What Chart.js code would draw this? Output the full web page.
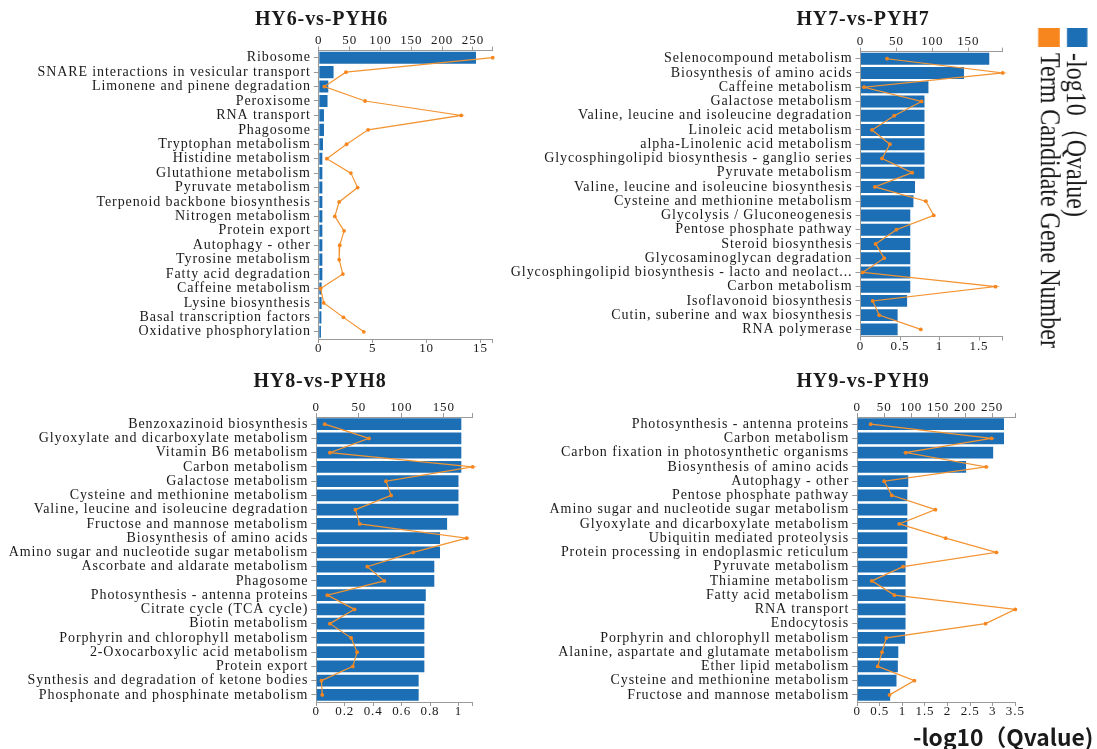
<!DOCTYPE html>
<html>
<head>
<meta charset="utf-8">
<script src="https://cdn.jsdelivr.net/npm/chart.js@4.4.1/dist/chart.umd.min.js"></script>
<style>
html, body { margin: 0; padding: 0; background: #fff; overflow: hidden; width: 1097px; height: 749px; }
canvas { position: absolute; }
.title { position: absolute; transform: translate(-50%, -50%); font-family: "Liberation Serif", serif; font-weight: bold;
         font-size: 20px; line-height: 24px; letter-spacing: 0.9px; color: #1a1a1a; white-space: nowrap; }
#key { position: absolute; left: 1091px; top: 28px; transform-origin: 0 0; transform: rotate(90deg) scaleY(1.2);
       font-family: "Liberation Serif", serif; font-size: 24px; color: #1a1a1a; white-space: nowrap; }
#key .row { display: flex; align-items: center; height: 23.3px; }
#key .sw { width: 19px; height: 17.5px; margin-right: 6px; flex: none; }
#xname { position: absolute; left: 913px; top: 725px; font-family: "Noto Sans CJK SC", sans-serif; font-weight: bold;
         font-size: 22.8px; line-height: 23px; color: #1a1a1a; white-space: nowrap; }
</style>
</head>
<body>
<canvas id="c6" width="643" height="360" style="left:0px;top:0px"></canvas>
<canvas id="c7" width="597" height="360" style="left:500px;top:0px"></canvas>
<canvas id="c8" width="643" height="389" style="left:0px;top:360px"></canvas>
<canvas id="c9" width="597" height="389" style="left:500px;top:360px"></canvas>
<div class="title" style="left:321.5px;top:17.5px">HY6-vs-PYH6</div>
<div class="title" style="left:863px;top:17.5px">HY7-vs-PYH7</div>
<div class="title" style="left:320px;top:380px">HY8-vs-PYH8</div>
<div class="title" style="left:863px;top:380px">HY9-vs-PYH9</div>
<div id="key">
  <div class="row"><span class="sw" style="background:#1d6fb5"></span><span>-log10（Qvalue)</span></div>
  <div class="row"><span class="sw" style="background:#f8861e"></span><span>Term Candidate Gene Number</span></div>
</div>
<div id="xname">-log10（Qvalue)</div>
<script>
// ---- HY6-vs-PYH6 ----
const hy6Terms = ["Ribosome", "SNARE interactions in vesicular transport", "Limonene and pinene degradation", "Peroxisome",
  "RNA transport", "Phagosome", "Tryptophan metabolism", "Histidine metabolism", "Glutathione metabolism",
  "Pyruvate metabolism", "Terpenoid backbone biosynthesis", "Nitrogen metabolism", "Protein export",
  "Autophagy - other", "Tyrosine metabolism", "Fatty acid degradation", "Caffeine metabolism",
  "Lysine biosynthesis", "Basal transcription factors", "Oxidative phosphorylation"];
const hy6Qvalue = [14.58, 1.37, 0.88, 0.81, 0.48, 0.48, 0.39, 0.33, 0.33, 0.33, 0.33, 0.33, 0.33, 0.33, 0.33, 0.33, 0.26, 0.26, 0.24, 0.2];
const hy6Genes = [282, 44, 9, 75, 231, 80, 45, 13, 52, 63, 33, 26, 41, 34, 33, 39, 3, 8, 40, 73];
const hy6QTicks = [0, 5, 10, 15];
const hy6QMax = 16.13;
const hy6GeneTicks = [0, 50, 100, 150, 200, 250];

// ---- HY7-vs-PYH7 ----
const hy7Terms = ["Selenocompound metabolism", "Biosynthesis of amino acids", "Caffeine metabolism", "Galactose metabolism",
  "Valine, leucine and isoleucine degradation", "Linoleic acid metabolism", "alpha-Linolenic acid metabolism",
  "Glycosphingolipid biosynthesis - ganglio series", "Pyruvate metabolism", "Valine, leucine and isoleucine biosynthesis",
  "Cysteine and methionine metabolism", "Glycolysis / Gluconeogenesis", "Pentose phosphate pathway",
  "Steroid biosynthesis", "Glycosaminoglycan degradation", "Glycosphingolipid biosynthesis - lacto and neolact...",
  "Carbon metabolism", "Isoflavonoid biosynthesis", "Cutin, suberine and wax biosynthesis", "RNA polymerase"];
const hy7Qvalue = [1.63, 1.31, 0.86, 0.81, 0.81, 0.81, 0.81, 0.81, 0.81, 0.69, 0.67, 0.63, 0.63, 0.63, 0.63, 0.63, 0.63, 0.59, 0.47, 0.47];
const hy7Genes = [37, 198, 5, 85, 47, 16, 41, 30, 72, 20, 91, 102, 50, 21, 33, 3, 188, 17, 26, 84];
const hy7QTicks = [0, 0.5, 1, 1.5];
const hy7QMax = 1.8;
const hy7GeneTicks = [0, 50, 100, 150];

// ---- HY8-vs-PYH8 ----
const hy8Terms = ["Benzoxazinoid biosynthesis", "Glyoxylate and dicarboxylate metabolism", "Vitamin B6 metabolism",
  "Carbon metabolism", "Galactose metabolism", "Cysteine and methionine metabolism",
  "Valine, leucine and isoleucine degradation", "Fructose and mannose metabolism", "Biosynthesis of amino acids",
  "Amino sugar and nucleotide sugar metabolism", "Ascorbate and aldarate metabolism", "Phagosome",
  "Photosynthesis - antenna proteins", "Citrate cycle (TCA cycle)", "Biotin metabolism",
  "Porphyrin and chlorophyll metabolism", "2-Oxocarboxylic acid metabolism", "Protein export",
  "Synthesis and degradation of ketone bodies", "Phosphonate and phosphinate metabolism"];
const hy8Qvalue = [1.02, 1.02, 1.02, 1.02, 1.0, 1.0, 1.0, 0.92, 0.87, 0.87, 0.83, 0.83, 0.77, 0.76, 0.76, 0.76, 0.76, 0.76, 0.72, 0.72];
const hy8Genes = [10, 62, 16, 184, 82, 88, 46, 51, 177, 114, 60, 80, 13, 45, 16, 41, 48, 43, 6, 7];
const hy8QTicks = [0, 0.2, 0.4, 0.6, 0.8, 1];
const hy8QMax = 1.1;
const hy8GeneTicks = [0, 50, 100, 150];

// ---- HY9-vs-PYH9 ----
const hy9Terms = ["Photosynthesis - antenna proteins", "Carbon metabolism", "Carbon fixation in photosynthetic organisms",
  "Biosynthesis of amino acids", "Autophagy - other", "Pentose phosphate pathway",
  "Amino sugar and nucleotide sugar metabolism", "Glyoxylate and dicarboxylate metabolism",
  "Ubiquitin mediated proteolysis", "Protein processing in endoplasmic reticulum", "Pyruvate metabolism",
  "Thiamine metabolism", "Fatty acid metabolism", "RNA transport", "Endocytosis",
  "Porphyrin and chlorophyll metabolism", "Alanine, aspartate and glutamate metabolism", "Ether lipid metabolism",
  "Cysteine and methionine metabolism", "Fructose and mannose metabolism"];
const hy9Qvalue = [3.25, 3.25, 3.01, 2.41, 1.13, 1.11, 1.11, 1.11, 1.11, 1.11, 1.07, 1.07, 1.07, 1.07, 1.07, 1.06, 0.91, 0.9, 0.87, 0.73];
const hy9Genes = [25, 249, 90, 239, 50, 64, 145, 78, 164, 258, 85, 27, 69, 293, 238, 54, 46, 38, 106, 60];
const hy9QTicks = [0, 0.5, 1, 1.5, 2, 2.5, 3, 3.5];
const hy9QMax = 3.5;
const hy9GeneTicks = [0, 50, 100, 150, 200, 250];

// ---- styling ----
const BLUE = '#1d6fb5';
const ORANGE = '#f8861e';
const LINE = '#f39432';
const AXIS = '#9a9a9a';
const INK = '#1a1a1a';
const SERIF = '"Liberation Serif", "Times New Roman", serif';

Chart.defaults.font.family = SERIF;

// wide, airy lettering for every text drawn on the canvases
const airyText = {
  id: 'airyText',
  beforeDraw(chart) { chart.ctx.letterSpacing = '0.9px'; }
};

// frame: canvas placement (L,T,W,H) and plot box (cl,cr,ct,cb), in page pixels
function panel(id, terms, qvalue, genes, qTicks, qMax, geneTicks, f) {
  const topH = 22;
  const botH = 20;
  const yw = f.cl - f.L;
  const pr = f.W - (f.cr - f.L);
  const pt = f.ct - f.T - topH;
  const pb = f.H - (f.cb - f.T) - botH;
  const geneMax = Math.max(...genes);

  const valueAxis = (ticksList, max, position, h) => ({
    type: 'linear', position, min: 0, max,
    grid: { drawOnChartArea: false, drawTicks: true, tickLength: 4, color: AXIS },
    border: { display: true, color: AXIS, width: 1 },
    ticks: {
      autoSkip: false, maxRotation: 0, color: INK, padding: -2,
      font: { family: SERIF, size: 13 },
      callback: (v) => ticksList.includes(v) ? String(v) : ''
    },
    afterBuildTicks(s) {
      const vals = ticksList.slice();
      if (vals[vals.length - 1] < max) vals.push(max);
      s.ticks = vals.map(v => ({ value: v }));
    },
    afterFit(s) { s.height = h; }
  });

  return new Chart(document.getElementById(id), {
    type: 'bar',
    data: {
      labels: terms,
      datasets: [
        {
          type: 'line', label: 'Term Candidate Gene Number', data: genes,
          xAxisID: 'x2', yAxisID: 'y', indexAxis: 'y',
          borderColor: LINE, backgroundColor: LINE, borderWidth: 1.2,
          pointRadius: 1.9, pointBorderWidth: 0, pointBackgroundColor: ORANGE,
          pointHoverRadius: 0, clip: false, order: 0, tension: 0
        },
        {
          type: 'bar', label: '-log10（Qvalue)', data: qvalue,
          xAxisID: 'x', yAxisID: 'y',
          backgroundColor: BLUE, borderWidth: 0,
          barPercentage: 0.84, categoryPercentage: 1, order: 1
        }
      ]
    },
    options: {
      indexAxis: 'y', responsive: false, animation: false,
      layout: { padding: { left: 0, right: pr, top: pt, bottom: pb } },
      plugins: {
        legend: { display: false },
        tooltip: { enabled: false },
        title: { display: false }
      },
      scales: {
        y: {
          type: 'category', position: 'left',
          grid: { drawOnChartArea: false, drawTicks: true, tickLength: 5, color: AXIS, offset: false },
          border: { display: true, color: AXIS, width: 1 },
          ticks: { autoSkip: false, color: INK, padding: 3, font: { family: SERIF, size: 14 } },
          afterFit(s) { s.width = yw; }
        },
        x: valueAxis(qTicks, qMax, 'bottom', botH),
        x2: valueAxis(geneTicks, geneMax, 'top', topH)
      }
    },
    plugins: [airyText]
  });
}

panel('c6', hy6Terms, hy6Qvalue, hy6Genes, hy6QTicks, hy6QMax, hy6GeneTicks,
  { L: 0, T: 0, W: 643, H: 360, cl: 318.8, cr: 492.7, ct: 50.5, cb: 339 });
panel('c7', hy7Terms, hy7Qvalue, hy7Genes, hy7QTicks, hy7QMax, hy7GeneTicks,
  { L: 500, T: 0, W: 597, H: 360, cl: 860.5, cr: 1002.7, ct: 51.6, cb: 336.5 });
panel('c8', hy8Terms, hy8Qvalue, hy8Genes, hy8QTicks, hy8QMax, hy8GeneTicks,
  { L: 0, T: 360, W: 643, H: 389, cl: 316.3, cr: 472.7, ct: 417, cb: 702 });
panel('c9', hy9Terms, hy9Qvalue, hy9Genes, hy9QTicks, hy9QMax, hy9GeneTicks,
  { L: 500, T: 360, W: 597, H: 389, cl: 857.2, cr: 1015.3, ct: 417, cb: 702 });
</script>
</body>
</html>
